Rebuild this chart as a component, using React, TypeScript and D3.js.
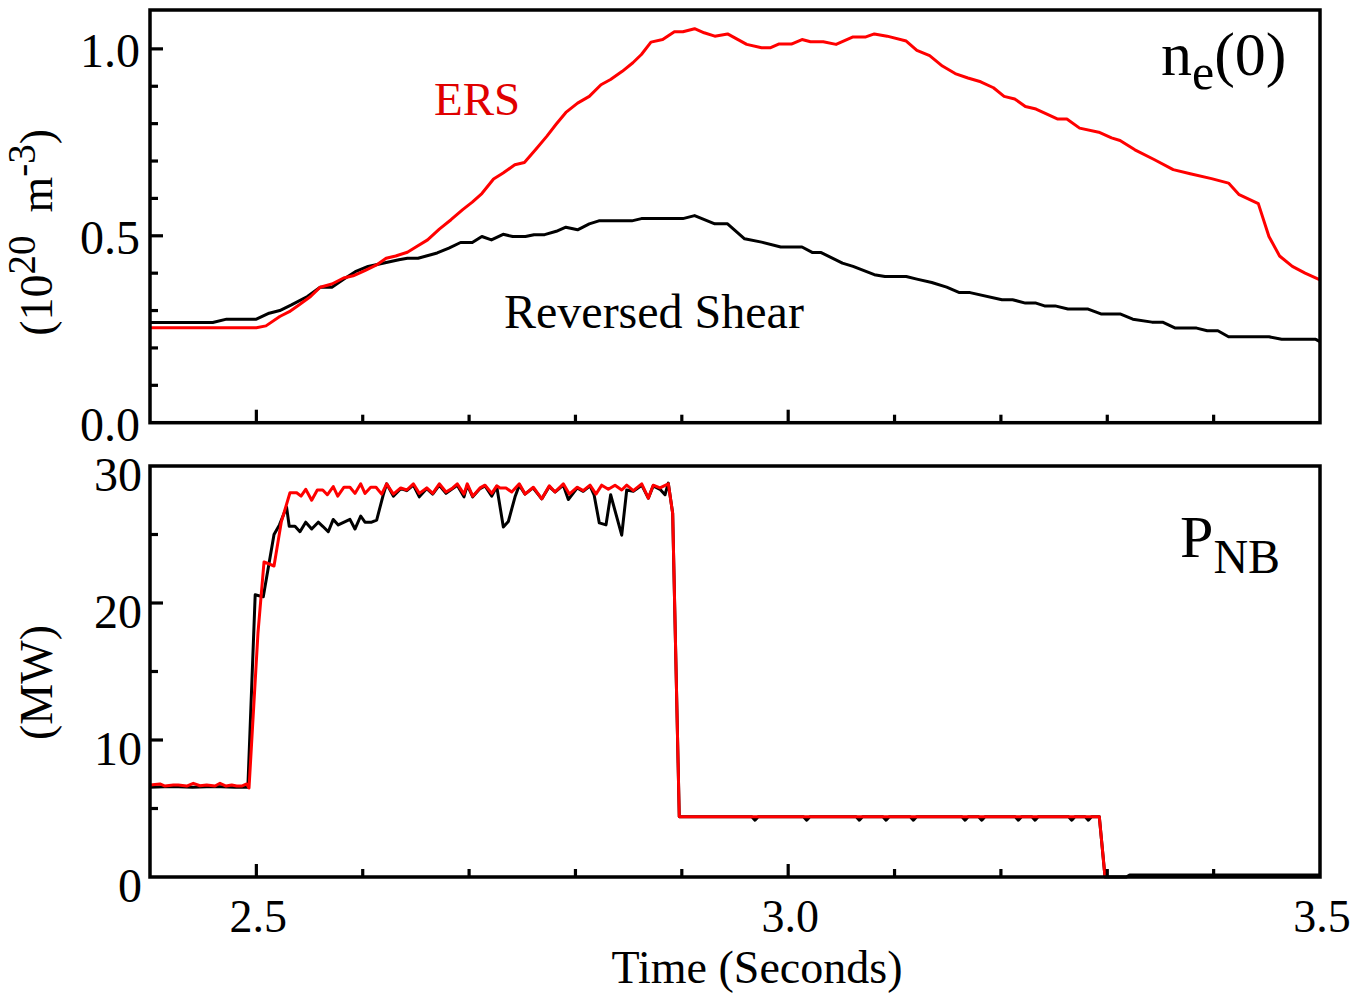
import React from "react";
import * as d3 from "d3";

// ---------- data ----------
// Central electron density n_e(0), 10^20 m^-3
const ersDensity: [number, number][] = [
  [2.4, 0.254], [2.5, 0.254], [2.509, 0.259], [2.522, 0.284], [2.531, 0.297], [2.54, 0.315],
  [2.551, 0.3375], [2.56, 0.3625], [2.571, 0.371], [2.582, 0.387], [2.591, 0.393], [2.602, 0.407],
  [2.613, 0.422], [2.622, 0.44], [2.631, 0.446], [2.642, 0.456], [2.65, 0.47], [2.661, 0.489],
  [2.672, 0.518], [2.683, 0.543], [2.694, 0.57], [2.703, 0.59], [2.712, 0.613], [2.723, 0.652],
  [2.732, 0.668], [2.743, 0.69], [2.752, 0.696], [2.763, 0.732], [2.773, 0.766], [2.782, 0.799],
  [2.791, 0.83], [2.802, 0.855], [2.813, 0.873], [2.824, 0.904], [2.833, 0.918], [2.844, 0.94],
  [2.854, 0.963], [2.862, 0.985], [2.871, 1.018], [2.882, 1.025], [2.893, 1.046], [2.901, 1.046],
  [2.912, 1.054], [2.921, 1.043], [2.931, 1.034], [2.943, 1.04], [2.961, 1.012], [2.975, 1.003],
  [2.983, 1.003], [2.991, 1.013], [3.003, 1.013], [3.013, 1.025], [3.021, 1.019], [3.033, 1.019],
  [3.045, 1.012], [3.061, 1.032], [3.073, 1.032], [3.081, 1.04], [3.093, 1.034], [3.111, 1.021],
  [3.121, 0.996], [3.133, 0.982], [3.145, 0.954], [3.157, 0.934], [3.169, 0.922], [3.181, 0.912],
  [3.193, 0.896], [3.203, 0.873], [3.213, 0.866], [3.223, 0.846], [3.233, 0.839], [3.253, 0.8125],
  [3.262, 0.8125], [3.274, 0.788], [3.292, 0.777], [3.304, 0.762], [3.312, 0.755], [3.326, 0.73],
  [3.344, 0.704], [3.362, 0.677], [3.378, 0.666], [3.398, 0.653], [3.414, 0.641], [3.424, 0.61],
  [3.442, 0.586], [3.452, 0.498], [3.462, 0.446], [3.474, 0.418], [3.486, 0.4], [3.5, 0.382],
];

const rsDensity: [number, number][] = [
  [2.4, 0.268], [2.459, 0.268], [2.472, 0.277], [2.5, 0.277], [2.512, 0.293], [2.522, 0.3],
  [2.533, 0.315], [2.548, 0.3375], [2.56, 0.3625], [2.571, 0.3625], [2.582, 0.384], [2.593, 0.404],
  [2.605, 0.418], [2.62, 0.427], [2.634, 0.436], [2.642, 0.44], [2.652, 0.44], [2.67, 0.454],
  [2.681, 0.467], [2.692, 0.482], [2.703, 0.482], [2.712, 0.498], [2.721, 0.489], [2.732, 0.504],
  [2.741, 0.498], [2.753, 0.498], [2.761, 0.503], [2.771, 0.503], [2.782, 0.512], [2.791, 0.523],
  [2.802, 0.516], [2.813, 0.532], [2.822, 0.54], [2.853, 0.54], [2.862, 0.546], [2.901, 0.546],
  [2.912, 0.554], [2.931, 0.532], [2.943, 0.532], [2.959, 0.492], [2.975, 0.483], [2.993, 0.47],
  [3.013, 0.47], [3.023, 0.455], [3.031, 0.455], [3.051, 0.427], [3.061, 0.418], [3.081, 0.396],
  [3.091, 0.391], [3.111, 0.391], [3.121, 0.384], [3.135, 0.375], [3.149, 0.3625], [3.161, 0.348],
  [3.171, 0.348], [3.201, 0.329], [3.211, 0.329], [3.223, 0.32], [3.233, 0.32], [3.241, 0.3125],
  [3.251, 0.3125], [3.263, 0.304], [3.282, 0.304], [3.294, 0.291], [3.312, 0.291], [3.324, 0.277],
  [3.342, 0.269], [3.352, 0.269], [3.364, 0.253], [3.384, 0.253], [3.394, 0.246], [3.404, 0.246],
  [3.414, 0.23], [3.452, 0.23], [3.464, 0.223], [3.496, 0.223], [3.5, 0.217],
];

// Neutral beam power P_NB, MW
const ersPower: [number, number][] = [
  [2.4, 6.72], [2.4094, 6.79], [2.4141, 6.64], [2.4219, 6.72], [2.4266, 6.72], [2.4345, 6.64],
  [2.4407, 6.84], [2.447, 6.66], [2.4533, 6.72], [2.4611, 6.64], [2.4658, 6.84], [2.4715, 6.64],
  [2.4768, 6.72], [2.4815, 6.64], [2.4862, 6.64], [2.4909, 6.79], [2.4931, 6.5], [2.5015, 17.8],
  [2.5072, 23.0], [2.5166, 22.7], [2.5234, 25.9], [2.5316, 28.05], [2.5379, 28.05], [2.542, 27.8],
  [2.5464, 28.3], [2.552, 27.5], [2.5573, 28.25], [2.5624, 28.25], [2.5667, 27.9], [2.5723, 28.5],
  [2.5765, 27.8], [2.5824, 28.45], [2.588, 28.45], [2.5927, 28.0], [2.5981, 28.7], [2.6021, 28.0],
  [2.6075, 28.45], [2.6125, 28.45], [2.6178, 27.95], [2.6225, 28.7], [2.6288, 27.95], [2.6357, 28.4],
  [2.6414, 28.25], [2.6476, 28.7], [2.6532, 28.0], [2.6602, 28.4], [2.6658, 28.0], [2.672, 28.7],
  [2.6783, 28.1], [2.6846, 28.4], [2.6889, 28.7], [2.6952, 27.95], [2.6983, 28.7], [2.7034, 27.8],
  [2.7103, 28.4], [2.715, 28.6], [2.7213, 28.0], [2.726, 28.55], [2.7291, 28.4], [2.7347, 28.4],
  [2.7401, 28.1], [2.7472, 28.7], [2.7526, 27.95], [2.7604, 28.45], [2.7683, 27.6], [2.7754, 28.55],
  [2.7808, 28.1], [2.7886, 28.7], [2.7942, 27.95], [2.8017, 28.45], [2.8073, 28.2], [2.8137, 28.6],
  [2.8193, 27.95], [2.8247, 28.6], [2.8309, 28.3], [2.8372, 28.6], [2.8435, 28.25], [2.8482, 28.6],
  [2.8544, 28.2], [2.8623, 28.7], [2.8685, 27.65], [2.8731, 28.6], [2.8795, 28.4], [2.8873, 28.7],
  [2.8914, 26.55], [2.8976, 4.4], [3.2925, 4.4], [3.2979, 0.0],
];

const rsPower: [number, number][] = [
  [2.4, 6.55], [2.42, 6.6], [2.44, 6.55], [2.46, 6.6], [2.48, 6.55], [2.492, 6.55],
  [2.4989, 20.6], [2.5065, 20.45], [2.5166, 25.0], [2.5217, 25.7], [2.5284, 27.0], [2.5309, 25.6],
  [2.5363, 25.6], [2.541, 25.2], [2.5464, 25.9], [2.552, 25.4], [2.5582, 25.9], [2.5624, 25.6],
  [2.5676, 25.2], [2.5723, 26.1], [2.577, 25.7], [2.588, 26.1], [2.5927, 25.4], [2.5981, 26.35],
  [2.6021, 25.9], [2.6084, 25.9], [2.6131, 26.05], [2.6193, 27.9], [2.6225, 28.7], [2.6288, 27.8],
  [2.6357, 28.35], [2.6414, 28.2], [2.6476, 28.6], [2.6532, 27.75], [2.6602, 28.35], [2.6658, 27.95],
  [2.672, 28.6], [2.6783, 28.0], [2.6846, 28.35], [2.6889, 28.6], [2.6952, 27.75], [2.6983, 28.6],
  [2.7034, 27.75], [2.7103, 28.35], [2.715, 28.55], [2.7213, 27.8], [2.726, 28.5], [2.7322, 25.55],
  [2.7369, 25.95], [2.7432, 27.75], [2.7472, 28.6], [2.7526, 27.95], [2.7601, 28.4], [2.7683, 27.6],
  [2.7754, 28.5], [2.7808, 28.1], [2.7886, 28.6], [2.7933, 27.55], [2.8017, 28.4], [2.8073, 28.15],
  [2.8137, 28.55], [2.8175, 27.9], [2.8224, 25.85], [2.8287, 25.7], [2.8331, 27.9], [2.8435, 24.95],
  [2.8482, 28.25], [2.8544, 28.15], [2.8623, 28.6], [2.8685, 27.65], [2.8731, 28.55], [2.8795, 28.3],
  [2.8842, 27.9], [2.8873, 28.75], [2.8914, 26.55], [2.8976, 4.4],
  [2.9658, 4.4], [2.9688, 4.15], [2.9718, 4.4], [3.0144, 4.4], [3.0174, 4.15], [3.0204, 4.4],
  [3.0639, 4.4], [3.0669, 4.15], [3.0699, 4.4], [3.089, 4.4], [3.092, 4.15], [3.095, 4.4],
  [3.1147, 4.4], [3.1177, 4.15], [3.1207, 4.4], [3.1633, 4.4], [3.1663, 4.15], [3.1693, 4.4],
  [3.179, 4.4], [3.182, 4.15], [3.185, 4.4], [3.2134, 4.4], [3.2164, 4.15], [3.2194, 4.4],
  [3.2291, 4.4], [3.2321, 4.15], [3.2351, 4.4], [3.2636, 4.4], [3.2666, 4.15], [3.2696, 4.4],
  [3.2792, 4.4], [3.2822, 4.15], [3.2852, 4.4], [3.2925, 4.4], [3.2979, 0.0], [3.318, 0.0],
  [3.321, 0.15], [3.5, 0.15],
];

const timeDomain: [number, number] = [2.4, 3.5];
const xTickValues = [2.5, 3.0, 3.5];
const xTickLabels = ["2.5", "3.0", "3.5"];
const topTickValues = [0, 0.5, 1.0];
const topTickLabels = ["0.0", "0.5", "1.0"];
const botTickValues = [0, 10, 20, 30];
const botTickLabels = ["0", "10", "20", "30"];

// ---------- layout ----------
const W = 1367;
const H = 994;
const X0 = 150;
const X1 = 1320;
const TOP = { y0: 10, y1: 422.7 };
const BOT = { y0: 466, y1: 877 };
const RED = "#ff0000";
const FONT = "'Liberation Serif', 'Times New Roman', serif";

export default function App() {
  const x = d3.scaleLinear().domain(timeDomain).range([X0, X1]);
  const yTop = d3.scaleLinear().domain([0, 1.104]).range([TOP.y1, TOP.y0]);
  const yBot = d3.scaleLinear().domain([0, 30]).range([BOT.y1, BOT.y0]);

  const lineTop = d3.line<[number, number]>().x((d) => x(d[0])).y((d) => yTop(d[1]));
  const lineBot = d3.line<[number, number]>().x((d) => x(d[0])).y((d) => yBot(d[1]));

  const xMinor = x.ticks(11).filter((t) => t > 2.41 && t < 3.49);
  const isMajorX = (t: number) => Math.abs(t - 2.5) < 1e-6 || Math.abs(t - 3.0) < 1e-6;
  const topMinor = yTop.ticks(11).filter((t) => t > 0.01 && t < 1.1);
  const isMajorTop = (t: number) => Math.abs(t * 2 - Math.round(t * 2)) < 1e-6;
  const botMinor = d3.ticks(0, 30, 6).filter((t) => t > 0 && t < 30);
  const isMajorBot = (t: number) => t % 10 === 0;

  const MAJ = 13;
  const MIN = 8;
  const SW = 3.2;

  const xTicks = (y1: number) =>
    xMinor.map((t) => (
      <line key={`xt${y1}-${t}`} x1={x(t)} x2={x(t)} y1={y1} y2={y1 - (isMajorX(t) ? MAJ : MIN)} stroke="#000" strokeWidth={SW} />
    ));

  return (
    <svg width={W} height={H} style={{ position: "absolute", left: 0, top: 0, background: "#fff" }} fontFamily={FONT}>
      <rect x={0} y={0} width={W} height={H} fill="#fff" />

      {/* ---------- top panel ---------- */}
      <path d={lineTop(rsDensity) || ""} fill="none" stroke="#000" strokeWidth={3} strokeLinejoin="round" />
      <path d={lineTop(ersDensity) || ""} fill="none" stroke={RED} strokeWidth={3} strokeLinejoin="round" />
      <rect x={X0} y={TOP.y0} width={X1 - X0} height={TOP.y1 - TOP.y0} fill="none" stroke="#000" strokeWidth={3.5} />
      {xTicks(TOP.y1)}
      {topMinor.map((t) => (
        <line key={`yt${t}`} x1={X0} x2={X0 + (isMajorTop(t) ? MAJ : MIN)} y1={yTop(t)} y2={yTop(t)} stroke="#000" strokeWidth={SW} />
      ))}
      {topTickValues.map((t, i) => (
        <text key={`tl${t}`} x={140} y={yTop(t) + 18} fontSize={48} textAnchor="end">{topTickLabels[i]}</text>
      ))}
      <text transform={`translate(52,${(TOP.y0 + TOP.y1) / 2 + 16}) rotate(-90)`} fontSize={46} textAnchor="middle">
        (10<tspan dy={-17} fontSize={39}>20</tspan><tspan dy={17}>{"\u00a0\u00a0"}m</tspan>
        <tspan dy={-17} fontSize={39}>-3</tspan><tspan dy={17}>)</tspan>
      </text>
      <text x={434} y={115} fontSize={47} fill="#e00000">ERS</text>
      <text x={504} y={328} fontSize={48}>Reversed Shear</text>
      <text x={1161} y={75} fontSize={62}>
        n<tspan dy={14} fontSize={50}>e</tspan><tspan dy={-14}>(0)</tspan>
      </text>

      {/* ---------- bottom panel ---------- */}
      <path d={lineBot(rsPower) || ""} fill="none" stroke="#000" strokeWidth={3} strokeLinejoin="round" />
      <path d={lineBot(ersPower) || ""} fill="none" stroke={RED} strokeWidth={3} strokeLinejoin="round" />
      <rect x={X0} y={BOT.y0} width={X1 - X0} height={BOT.y1 - BOT.y0} fill="none" stroke="#000" strokeWidth={3.5} />
      {xTicks(BOT.y1)}
      {botMinor.map((t) => (
        <line key={`yb${t}`} x1={X0} x2={X0 + (isMajorBot(t) ? MAJ : MIN)} y1={yBot(t)} y2={yBot(t)} stroke="#000" strokeWidth={SW} />
      ))}
      {botTickValues.map((t, i) => (
        <text key={`bl${t}`} x={142} y={yBot(t) + 25} fontSize={48} textAnchor="end">{botTickLabels[i]}</text>
      ))}
      <text transform={`translate(52,${(BOT.y0 + BOT.y1) / 2 + 11}) rotate(-90)`} fontSize={46} textAnchor="middle">(MW)</text>
      <text x={1180} y={557} fontSize={60}>
        P<tspan dy={16} fontSize={48}>NB</tspan>
      </text>

      {/* x axis labels */}
      {xTickValues.map((t, i) => (
        <text key={`xl${t}`} x={x(t) + 2} y={932} fontSize={46} textAnchor="middle">{xTickLabels[i]}</text>
      ))}
      <text x={757} y={983} fontSize={46} textAnchor="middle">Time (Seconds)</text>
    </svg>
  );
}
